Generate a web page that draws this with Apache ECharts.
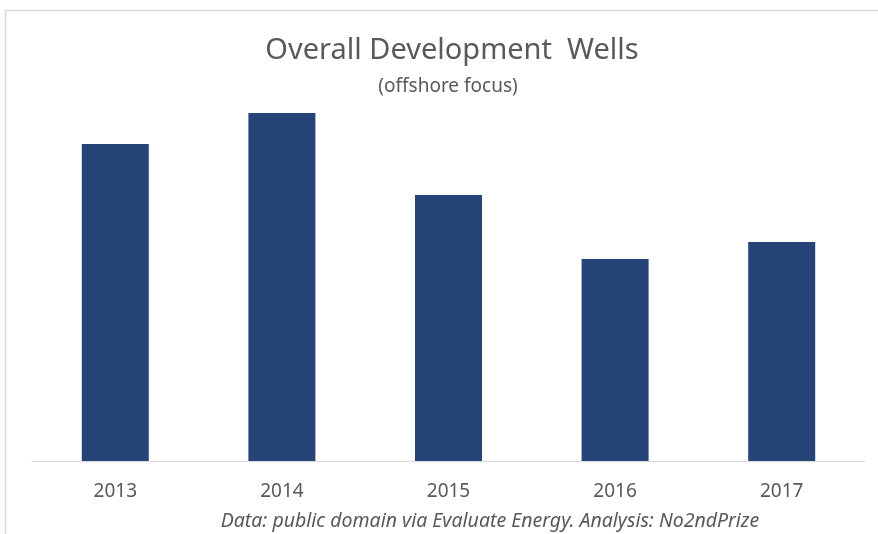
<!DOCTYPE html>
<html>
<head>
<meta charset="utf-8">
<script src="https://cdn.jsdelivr.net/npm/echarts@6/dist/echarts.min.js"></script>
<style>
  html, body { margin: 0; padding: 0; background: #ffffff; }
  #chart { width: 878px; height: 534px; }
</style>
</head>
<body>
<div id="chart"></div>
<script>
// Development wells by year (offshore focus)
const years = ['2013', '2014', '2015', '2016', '2017'];
const wells = [317, 348, 266, 202, 219];

const titleText = 'Overall Development  Wells';
const subtitleText = '(offshore focus)';
const sourceText = 'Data: public domain via Evaluate Energy. Analysis: No2ndPrize';

const textColor = '#595959';
const barColor = '#264478';
const fontFamily = '"Noto Sans", "Open Sans", sans-serif';

const chart = echarts.init(document.getElementById('chart'), null, { renderer: 'canvas' });

chart.setOption({
  animation: false,
  backgroundColor: '#ffffff',
  title: [
    {
      text: titleText,
      left: 447, top: 31, textAlign: 'center',
      textStyle: { fontFamily, fontSize: 29, fontWeight: 'normal', color: textColor }
    },
    {
      text: subtitleText,
      left: 443, top: 72, textAlign: 'center',
      textStyle: { fontFamily, fontSize: 19, fontWeight: 'normal', color: textColor }
    },
    {
      text: sourceText,
      left: 485, top: 506, textAlign: 'center',
      textStyle: { fontFamily, fontSize: 19.5, fontStyle: 'italic', fontWeight: 'normal', color: textColor }
    }
  ],
  graphic: [
    {
      type: 'polyline',
      silent: true,
      shape: { points: [[5.5, 540], [5.5, 10.5], [880, 10.5]] },
      style: { stroke: '#d9d9d9', lineWidth: 1.5, fill: null }
    }
  ],
  grid: { left: 32, right: 13, top: 61, bottom: 73, containLabel: false },
  xAxis: {
    type: 'category',
    data: years,
    axisLine: { show: true, lineStyle: { color: '#d9d9d9', width: 1.2 } },
    axisTick: { show: false },
    axisLabel: { color: textColor, fontFamily, fontSize: 19, margin: 21 }
  },
  yAxis: {
    type: 'value',
    min: 0, max: 400,
    show: false,
    splitLine: { show: false }
  },
  series: [
    {
      type: 'bar',
      data: wells,
      barWidth: 67,
      itemStyle: { color: barColor },
      silent: true
    }
  ]
});
</script>
</body>
</html>
